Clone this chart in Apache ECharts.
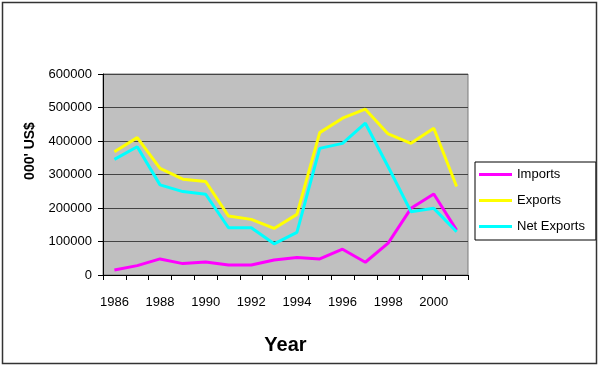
<!DOCTYPE html>
<html>
<head>
<meta charset="utf-8">
<script src="https://cdn.jsdelivr.net/npm/echarts@6/dist/echarts.min.js"></script>
<style>
html,body{margin:0;padding:0;background:#fff;}
#c{width:600px;height:367px;}
</style>
</head>
<body>
<div id="c"></div>
<script>
const years = ['1986','1987','1988','1989','1990','1991','1992','1993','1994','1995','1996','1997','1998','1999','2000','2001'];
const imports = [15000,28000,48000,34000,39000,30000,30000,45000,52000,48000,77000,38000,95000,199000,242000,134000];
const exportsV = [368000,410000,318000,286000,279000,176000,166000,139000,181000,425000,468000,495000,421000,393000,438000,264000];
const netExports = [345000,383000,269000,249000,241000,141000,141000,93000,127000,378000,393000,453000,323000,189000,199000,129000];
const yTicks = [0,100000,200000,300000,400000,500000,600000];

const font = 'Arial, "Liberation Sans", sans-serif';
const chart = echarts.init(document.getElementById('c'));
chart.setOption({
  animation: false,
  backgroundColor: '#fff',
  textStyle: {fontFamily: font},
  grid: {left: 103, right: 132, top: 74, bottom: 92, show: true,
         backgroundColor: '#c0c0c0', borderColor: '#7a7a7a', borderWidth: 1},
  xAxis: {
    type: 'category', data: years, boundaryGap: true,
    name: 'Year', nameLocation: 'middle', nameGap: 60,
    nameTextStyle: {fontSize: 20, fontWeight: 'bold', color: '#000', fontFamily: font},
    axisLine: {lineStyle: {color: '#000', width: 1}},
    axisTick: {show: true, interval: 0, length: 5, lineStyle: {color: '#000'}},
    axisLabel: {interval: 1, margin: 21, fontSize: 13, color: '#000', fontFamily: font}
  },
  yAxis: {
    type: 'value', min: yTicks[0], max: yTicks[yTicks.length-1], interval: 100000,
    axisLine: {show: true, lineStyle: {color: '#000', width: 1}},
    axisTick: {show: true, length: 5, lineStyle: {color: '#000'}},
    axisLabel: {margin: 11, fontSize: 13, color: '#000', fontFamily: font, formatter: v => String(v)},
    splitLine: {show: true, lineStyle: {color: '#444', width: 1}}
  },
  legend: {
    orient: 'vertical', left: 475, top: 162,
    width: 122,
    borderColor: '#000', borderWidth: 1, backgroundColor: '#fff',
    padding: [5, 11, 6, 4], itemGap: 11, itemWidth: 33, itemHeight: 3,
    icon: 'rect',
    textStyle: {fontSize: 13, color: '#000', fontFamily: font, lineHeight: 15, padding: [0,0,0,0]},
    data: ['Imports', 'Exports', 'Net Exports']
  },
  series: [
    {name: 'Imports', type: 'line', data: imports, symbol: 'none', color: '#ff00ff', lineStyle: {width: 3, color: '#ff00ff'}},
    {name: 'Exports', type: 'line', data: exportsV, symbol: 'none', color: '#ffff00', lineStyle: {width: 3, color: '#ffff00'}},
    {name: 'Net Exports', type: 'line', data: netExports, symbol: 'none', color: '#00ffff', lineStyle: {width: 3, color: '#00ffff'}}
  ],
  graphic: [{
    type: 'rect', shape: {x: 2.5, y: 2.5, width: 594, height: 361},
    style: {fill: 'none', stroke: '#333', lineWidth: 1.5}, silent: true, z: 100
  }, {
    type: 'text', x: 30, y: 151, rotation: Math.PI / 2,
    style: {text: "000' US$", font: 'bold 14px ' + font, fill: '#000', align: 'center', verticalAlign: 'middle'},
    silent: true
  }]
});
</script>
</body>
</html>
